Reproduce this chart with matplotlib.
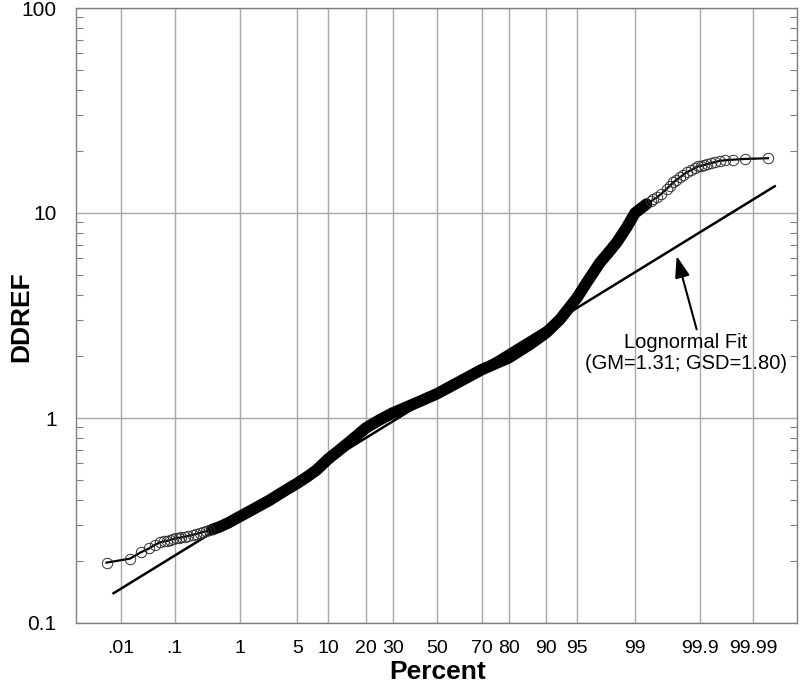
import numpy as np
import matplotlib
matplotlib.use("Agg")
import matplotlib.pyplot as plt
from matplotlib.ticker import LogLocator, NullFormatter, NullLocator
from statistics import NormalDist

plt.rcParams['font.family'] = ['Liberation Sans', 'DejaVu Sans']

# ---------------- data ----------------
# lower tail, individually visible points (percent, DDREF)
pct_lo = [0.005, 0.015, 0.025, 0.035, 0.045, 0.055, 0.065, 0.075, 0.085, 0.095,
          0.105, 0.12, 0.13, 0.15, 0.17, 0.20, 0.23, 0.26, 0.29, 0.33, 0.36]
val_lo = [0.197, 0.206, 0.222, 0.231, 0.241, 0.247, 0.250, 0.252, 0.255, 0.257,
          0.259, 0.260, 0.262, 0.264, 0.266, 0.269, 0.272, 0.275, 0.278, 0.280, 0.283]

# main body of the distribution
pct_mid = [0.40, 0.53, 0.70, 1.0, 1.5, 2.45, 3.5,
           5.0, 6.3, 7.8, 10.0, 12.0, 14.3, 17.0, 20.0, 25.0, 30.0, 35.0, 41.9,
           50.0, 62.0, 70.0, 80.0, 86.2, 90.0, 92.56, 95.0, 96.06, 97.22, 97.79,
           98.26, 98.71, 99.0, 99.31]
val_mid = [0.285, 0.295, 0.308, 0.330, 0.358, 0.398, 0.437,
           0.481, 0.517, 0.558, 0.632, 0.685, 0.745, 0.815, 0.893, 0.981, 1.058,
           1.12, 1.206, 1.315, 1.539, 1.723, 1.966, 2.284, 2.605, 3.027, 3.865,
           4.576, 5.732, 6.4, 7.18, 8.53, 10.0, 11.06]

# upper tail, ring-like points
pct_hi = [99.40, 99.45, 99.51, 99.58, 99.65, 99.69, 99.725, 99.755, 99.785, 99.81,
          99.833, 99.86, 99.88, 99.893, 99.905, 99.915, 99.925, 99.935, 99.945,
          99.955, 99.965, 99.975, 99.985, 99.995]
val_hi = [11.4, 11.65, 11.92, 12.4, 13.1, 13.6, 14.1, 14.5, 14.93, 15.35,
          15.8, 16.2, 16.6, 16.9, 17.0, 17.15, 17.3, 17.5, 17.7,
          17.95, 18.1, 18.2, 18.35, 18.5]

# lognormal fit
GM = 1.31
GSD = 1.80
fit_pct = [0.007, 99.9964]

x_ticks = [0.01, 0.1, 1, 5, 10, 20, 30, 50, 70, 80, 90, 95, 99, 99.9, 99.99]
x_labels = ['.01', '.1', '1', '5', '10', '20', '30', '50', '70', '80', '90', '95',
            '99', '99.9', '99.99']
y_ticks = [0.1, 1, 10, 100]
y_labels = ['0.1', '1', '10', '100']

# ---------------- probability scale ----------------
_nd = NormalDist()


def _fwd(p):
    p = np.asarray(p, dtype=float)
    q = np.clip(p / 100.0, 1e-12, 1 - 1e-12)
    return np.vectorize(_nd.inv_cdf, otypes=[float])(q)


def _inv(z):
    z = np.asarray(z, dtype=float)
    return np.vectorize(_nd.cdf, otypes=[float])(z) * 100.0


fig = plt.figure(figsize=(8, 6.86), dpi=100)
ax = fig.add_axes([76 / 800, 1 - 623 / 686, (797 - 76) / 800, (623 - 8) / 686])
ax.set_xscale('function', functions=(_fwd, _inv))
ax.set_yscale('log')
ax.set_xlim(0.00107, 99.99884)
ax.set_ylim(0.1, 100)

pct = np.array(pct_lo + pct_mid + pct_hi)
val = np.array(val_lo + val_mid + val_hi)
dense = (pct >= 0.4) & (pct <= 99.35)

# fit line
fz = _fwd(fit_pct)
fit_val = GM * GSD ** fz
ax.plot(fit_pct, fit_val, color='black', lw=1.8, zorder=3)

# data
ax.plot(pct, val, color='black', lw=1.6, zorder=4)
ax.plot(pct[dense], val[dense], color='black', lw=8.3, solid_capstyle='round',
        solid_joinstyle='round', zorder=4)
ax.plot(pct[~dense], val[~dense], ls='none', marker='o', ms=7.5, mfc='none',
        mec='#333333', mew=0.7, zorder=5)

# axes styling
ax.set_xticks(x_ticks)
ax.set_xticklabels(x_labels)
ax.xaxis.set_minor_locator(NullLocator())
ax.set_yticks(y_ticks)
ax.set_yticklabels(y_labels)
ax.yaxis.set_minor_locator(LogLocator(base=10, subs=np.arange(2, 10)))
ax.yaxis.set_minor_formatter(NullFormatter())

ax.grid(True, which='major', axis='both', color='#a8a8a8', lw=1.0, zorder=0)
ax.set_axisbelow(True)
for s in ax.spines.values():
    s.set_color('#808080')
    s.set_linewidth(1.0)

ax.tick_params(axis='x', which='major', length=0, pad=12, labelsize=14)
ax.tick_params(axis='y', which='major', length=0, pad=14, labelsize=15)
ax.tick_params(axis='y', which='minor', direction='in', length=5, width=0.8,
               color='#808080', left=True, right=True)

fig.text(438 / 800, 1 - 672 / 686, 'Percent', ha='center', va='center',
         fontsize=19, fontweight='bold')
fig.text(21 / 800, 1 - 317 / 686, 'DDREF', ha='center', va='center',
         rotation=90, fontsize=19, fontweight='bold')

# annotation
fig.text(686 / 800, 1 - 353 / 686, 'Lognormal Fit\n(GM=1.31; GSD=1.80)',
         ha='center', va='center', multialignment='center', fontsize=14.5,
         linespacing=1.15)
ax.annotate('', xy=(99.757, 6.17), xytext=(99.886, 2.707),
            arrowprops=dict(arrowstyle='-|>,head_length=1.3,head_width=0.45',
                            mutation_scale=10, lw=1.5, color='black',
                            shrinkA=0, shrinkB=0))

fig.savefig('out.png', dpi=100)
